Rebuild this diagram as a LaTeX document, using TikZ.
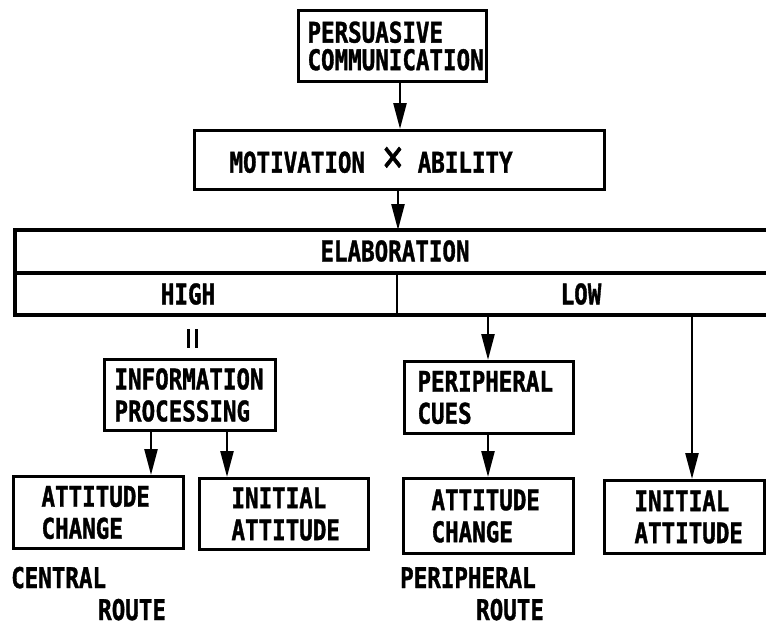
\documentclass[tikz,border=0pt]{standalone}
\usepackage{fontspec}
\newfontfamily\dfont[FakeStretch=0.79,FakeBold=1.2]{DejaVu Sans Mono}
\usetikzlibrary{arrows.meta}
\newcommand{\twol}[5]{\makebox[#1pt][l]{\hspace*{#2pt}\vbox{\baselineskip=#3pt\hbox{#4}\hbox{#5}}}}
\newcommand{\onel}[3]{\makebox[#1pt][l]{\hspace*{#2pt}#3}}
\begin{document}
\begin{tikzpicture}[x=1pt,y=-1pt,
  every node/.style={font=\dfont\bfseries\fontsize{28.5}{32}\selectfont},
  box/.style={draw, line width=3pt, inner sep=0pt, anchor=north west},
  arr/.style={line width=2.5pt, -{Triangle[length=26pt,width=13pt]}},
  tbl/.style={line width=3.5pt},
  lbl/.style={inner sep=0pt, anchor=base west}]
\useasboundingbox (0,0) rectangle (766,632);

% boxes
\node[box, minimum height=71pt] (pc) at (297,9) {\twol{188}{9}{27.5}{PERSUASIVE}{COMMUNICATION}};
\node[box, minimum height=59pt] (ma) at (193,129) {\onel{410}{35}{MOTIVATION\hspace{17pt}\raisebox{1pt}{\scalebox{1.6}{\mdseries ×}}\hspace{14pt}ABILITY}};
\node[box, minimum height=71pt] (ip) at (103,358) {\twol{171}{10}{32}{INFORMATION}{PROCESSING}};
\node[box, minimum height=72pt] (cues) at (403,360) {\twol{169}{13}{32}{PERIPHERAL}{CUES}};
\node[box, minimum height=72pt] (ac1) at (12,475) {\twol{170}{28}{32}{ATTITUDE}{CHANGE}};
\node[box, minimum height=71pt] (ia1) at (198,477) {\twol{169}{32}{32}{INITIAL}{ATTITUDE}};
\node[box, minimum height=75pt] (ac2) at (402,477) {\twol{170}{28}{32}{ATTITUDE}{CHANGE}};
\node[box, minimum height=73pt] (ia2) at (603,479) {\twol{160}{30}{32}{INITIAL}{ATTITUDE}};

% elaboration table
\draw[tbl] (770,230) -- (15,230) -- (15,315) -- (770,315);
\draw[tbl] (15,273) -- (770,273);
\draw[line width=2pt] (397,273) -- (397,315);
\node (elab) at (395,251) {ELABORATION};
\node (high) at (188,294) {HIGH};
\node (low) at (581,294) {LOW};

% double bar under HIGH
\draw[line width=3pt] (188.5,329) -- (188.5,348) (196,329) -- (196,348);

% route labels
\node[lbl] (cr1) at (11,588) {CENTRAL};
\node[lbl] (cr2) at (98,620) {ROUTE};
\node[lbl] (pr1) at (400,588) {PERIPHERAL};
\node[lbl] (pr2) at (476,620) {ROUTE};

% connectors
\coordinate (xa) at (400,0);
\draw[arr] (pc.south -| xa) -- (ma.north -| xa);
\coordinate (ttop) at (398,230);
\draw[arr] (ma.south -| ttop) -- (ttop);
\coordinate (t1) at (488,315);
\coordinate (t2) at (692,315);
\draw[arr] (t1) -- (cues.north -| t1);
\draw[arr] (t2) -- (ia2.north -| t2);
\coordinate (xc1) at (151,0);
\coordinate (xc2) at (227,0);
\draw[arr] (ip.south -| xc1) -- (ac1.north -| xc1);
\draw[arr] (ip.south -| xc2) -- (ia1.north -| xc2);
\draw[arr] (cues.south -| t1) -- (ac2.north -| t1);
\end{tikzpicture}
\end{document}
